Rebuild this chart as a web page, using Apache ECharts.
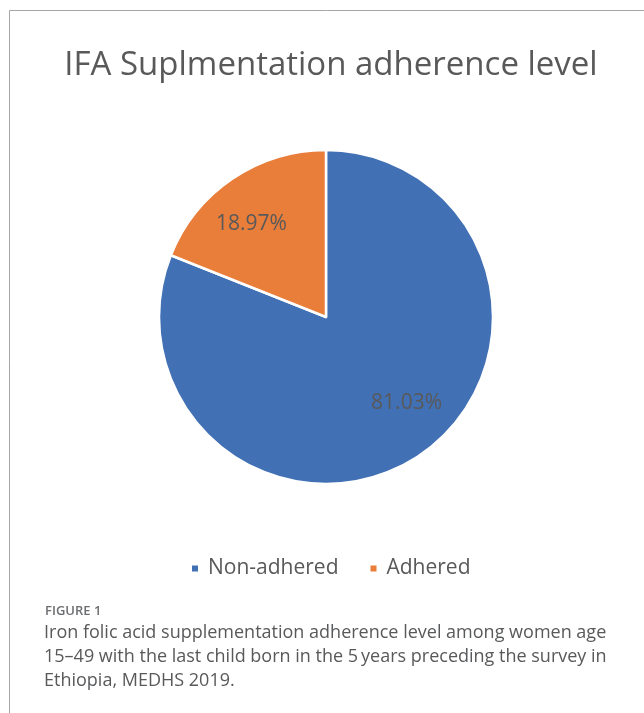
<!DOCTYPE html>
<html>
<head>
<meta charset="utf-8">
<script src="https://cdn.jsdelivr.net/npm/echarts@6/dist/echarts.min.js"></script>
<style>
  html, body { margin: 0; padding: 0; background: #fff; }
  #chart { width: 644px; height: 713px; }
</style>
</head>
<body>
<div id="chart"></div>
<script>
// data
const categories = ["Non-adhered", "Adhered"];
const shares = [81.03, 18.97];
const colors = ["#4170b4", "#e97e3b"];

const titleText = "IFA Suplmentation adherence level";
const figureLabel = "FIGURE 1";
const captionLines = [
    "Iron folic acid supplementation adherence level among women age",
    "15\u201349 with the last child born in the 5\u2009years preceding the survey in",
    "Ethiopia, MEDHS 2019."
];

const chart = echarts.init(document.getElementById("chart"));

// nudge the inside labels a bit outward, like the Excel original
const labelShift = [[32, 14], [-26, -21]];

const option = {
    animation: false,
    title: {
        text: titleText,
        left: 326,
        textAlign: "center",
        top: 44,
        textStyle: {
            fontFamily: "Open Sans",
            fontSize: 33,
            fontWeight: "normal",
            color: "#595959"
        }
    },
    legend: {
        data: categories,
        left: 185,
        top: 553,
        icon: "rect",
        itemWidth: 8,
        itemHeight: 8,
        itemGap: 30,
        textStyle: {
            fontFamily: "Open Sans",
            fontSize: 21,
            color: "#595959",
            padding: [0, 0, 0, 4]
        }
    },
    graphic: [
        // frame around the chart (top + left only visible)
        { type: "line", shape: { x1: 9.5, y1: 10.5, x2: 644, y2: 10.5 }, style: { stroke: "#a6a6a6", lineWidth: 1 } },
        { type: "line", shape: { x1: 9.5, y1: 10.5, x2: 9.5, y2: 713 }, style: { stroke: "#a6a6a6", lineWidth: 1 } },
        {
            type: "text", left: 45, top: 605,
            style: { text: figureLabel, font: "600 13px 'Open Sans'", fill: "#6d6e71" }
        },
        {
            type: "text", left: 44, top: 621,
            style: {
                text: captionLines.join("\n"),
                font: "18px 'Open Sans'",
                lineHeight: 24,
                fill: "#58595b"
            }
        }
    ],
    series: [
        {
            type: "pie",
            center: [326, 317],
            radius: 167,
            startAngle: 90,
            clockwise: true,
            color: colors,
            itemStyle: { borderColor: "#fff", borderWidth: 2.5 },
            label: {
                show: true,
                position: "inside",
                formatter: function (p) { return p.value.toFixed(2) + "%"; },
                fontFamily: "Open Sans",
                fontSize: 21,
                color: "#595959"
            },
            labelLayout: function (p) {
                const s = labelShift[p.dataIndex];
                return { dx: s[0], dy: s[1] };
            },
            labelLine: { show: false },
            emphasis: { disabled: true },
            data: categories.map(function (c, i) { return { name: c, value: shares[i] }; })
        }
    ]
};

chart.setOption(option);
</script>
</body>
</html>
